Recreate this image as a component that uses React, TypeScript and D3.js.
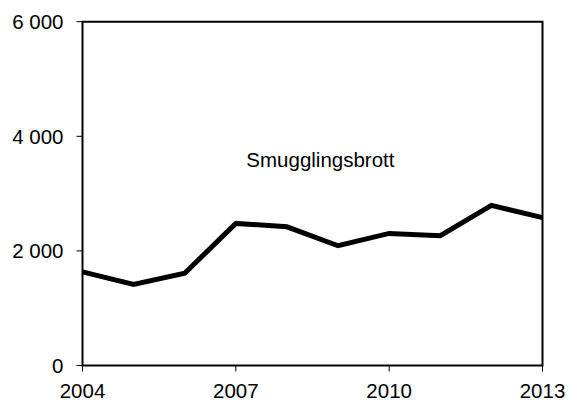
import React from "react";
import * as d3 from "d3";

const years = [2004, 2005, 2006, 2007, 2008, 2009, 2010, 2011, 2012, 2013];
const values = [1635, 1415, 1610, 2480, 2420, 2090, 2305, 2265, 2795, 2580];
const yTicks = [0, 2000, 4000, 6000];
const xTicks = [2004, 2007, 2010, 2013];
const seriesLabel = "Smugglingsbrott";

const W = 568;
const H = 401;
const left = 82.5;
const right = 542.5;
const top = 21.7;
const bottom = 365.5;

export default function App() {
  const x = d3.scaleLinear().domain([2004, 2013]).range([left, right]);
  const y = d3.scaleLinear().domain([0, 6000]).range([bottom, top]);
  const line = d3
    .line<number>()
    .x((_, i) => x(years[i]))
    .y((d) => y(d));
  const fmt = (v: number) => d3.format(",")(v).replace(/,/g, " ");
  const font = "'Liberation Sans', Arial, sans-serif";
  return (
    <svg
      width={W}
      height={H}
      style={{ position: "absolute", left: 0, top: 0, background: "#fff" }}
      fontFamily={font}
    >
      <rect x={0} y={0} width={W} height={H} fill="#fff" />
      {yTicks.map((t) => (
        <g key={t}>
          <line x1={left - 6} x2={left} y1={y(t)} y2={y(t)} stroke="#000" strokeWidth={1} />
          <text x={63.5} y={y(t) + 7.3} textAnchor="end" fontSize={20.5} fill="#000">
            {fmt(t)}
          </text>
        </g>
      ))}
      {xTicks.map((t) => (
        <g key={t}>
          <line x1={x(t)} x2={x(t)} y1={bottom} y2={bottom + 6} stroke="#000" strokeWidth={1} />
          <text x={x(t)} y={398.3} textAnchor="middle" fontSize={20.5} fill="#000">
            {t}
          </text>
        </g>
      ))}
      <path
        d={`M${left},${bottom}V${top}H${right}V${bottom}Z`}
        fill="none"
        stroke="#000"
        strokeWidth={2}
      />
      <path
        d={line(values) || ""}
        fill="none"
        stroke="#000"
        strokeWidth={5}
        strokeLinejoin="miter"
      />
      <text x={320.4} y={166.5} textAnchor="middle" fontSize={20.5} fill="#000">
        {seriesLabel}
      </text>
    </svg>
  );
}
